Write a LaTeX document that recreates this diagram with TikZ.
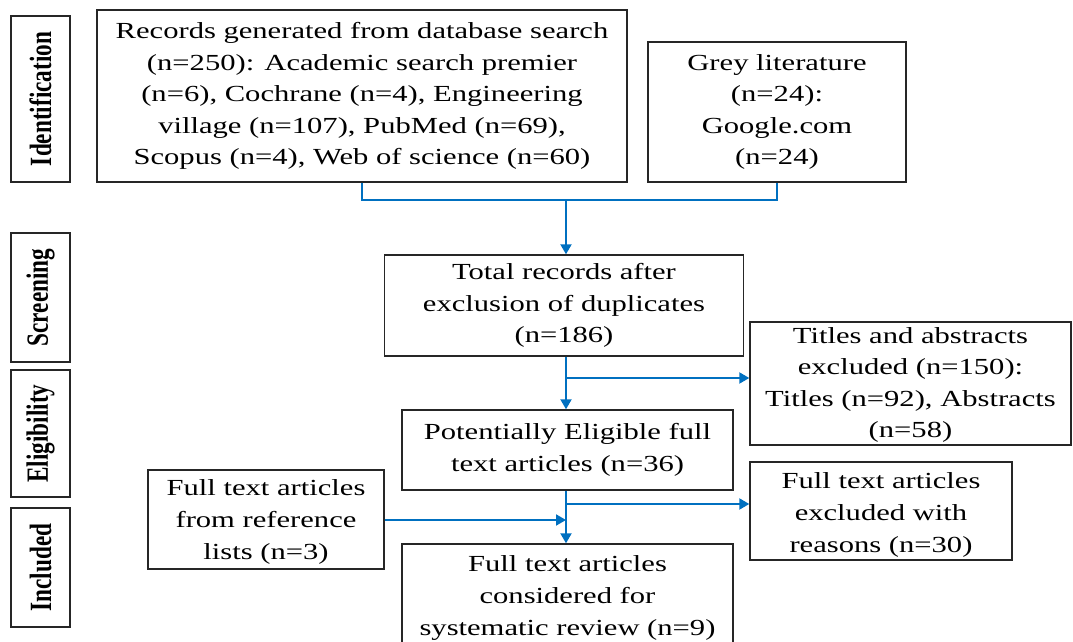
\documentclass[tikz,border=0pt]{standalone}
\usepackage{fontspec}
\setmainfont{Liberation Serif}[FakeStretch=1.33]
\newfontfamily\sidefont{Liberation Serif}
\usetikzlibrary{positioning,arrows.meta}
\definecolor{flowblue}{HTML}{0070C0}
\definecolor{inkgray}{HTML}{262626}

\begin{document}
\begin{tikzpicture}[x=0.5pt,y=-0.5pt,
  box/.style={draw=inkgray,line width=0.7pt,inner sep=0pt},
  txt/.style={align=center,text=black,inner sep=0pt,font=\fontsize{11.5}{15.8}\selectfont},
  stage/.style={draw=inkgray,line width=0.7pt,inner sep=0pt,rotate=90,minimum height=29.5pt,font=\sidefont\bfseries\fontsize{11.6}{12}\selectfont},
  flow/.style={draw=flowblue,line width=1pt},
  flowarr/.style={flow,-{Triangle[length=5pt,width=5.5pt]}}]
  \useasboundingbox (0,0) rectangle (1073,642);

  % phase labels
  \node[stage,minimum width=83pt](ident) at (40.5,99){\scalebox{1}[1.33]{Identification}};
  \node[stage,minimum width=64.5pt](screen) at (40.5,297.5){\scalebox{1}[1.33]{Screening}};
  \node[stage,minimum width=63.5pt](eligib) at (40.5,433.5){\scalebox{1}[1.33]{Eligibility}};
  \node[stage,minimum width=59.5pt](incl) at (40.5,567.5){\scalebox{1}[1.33]{Included}};

  % boxes
  \node[box,minimum width=265pt,minimum height=86pt](rec) at (362,96){};
  \node[txt](recT) at (rec){Records generated from database search\\(n=250): Academic search premier\\(n=6), Cochrane (n=4), Engineering\\village (n=107), PubMed (n=69),\\Scopus (n=4), Web of science (n=60)};
  \node[box,minimum width=129pt,minimum height=70pt](grey) at (777,112){};
  \node[txt](greyT) at (grey){Grey literature\\(n=24):\\Google.com\\(n=24)};
  \node[box,minimum width=179.5pt,minimum height=50.5pt](total) at (564,305.5){};
  \node[txt](totalT) at (total){Total records after\\exclusion of duplicates\\(n=186)};
  \node[box,minimum width=160.5pt,minimum height=61.5pt](titles) at (910.5,383.5){};
  \node[txt](titlesT) at (910.5,385){Titles and abstracts\\excluded (n=150):\\Titles (n=92), Abstracts\\(n=58)};
  \node[box,minimum width=165.5pt,minimum height=40pt](elig) at (567.5,450){};
  \node[txt](eligT) at (elig){Potentially Eligible full\\text articles (n=36)};
  \node[box,minimum width=131pt,minimum height=49pt](excl) at (881,511){};
  \node[txt](exclT) at (881,515){Full text articles\\excluded with\\reasons (n=30)};
  \node[box,minimum width=118pt,minimum height=49.5pt](ref) at (266,519.5){};
  \node[txt](refT) at (266,522){Full text articles\\from reference\\lists (n=3)};
  \node[box,minimum width=165.5pt,minimum height=58pt](final) at (567.5,602){};
  \node[txt](finalT) at (567.5,598){Full text articles\\considered for\\systematic review (n=9)};

  % connectors
  \coordinate (join) at (566,200);
  \coordinate (split1) at (566,378);
  \coordinate (split2) at (566,504);
  \coordinate (merge) at (566,520);
  \draw[flow] (rec.south) |- (join) -| (grey.south);
  \draw[flowarr] (join) -- (join |- total.north);
  \draw[flowarr] (join |- total.south) -- (join |- elig.north);
  \draw[flowarr] (split1) -- (split1 -| titles.west);
  \draw[flowarr] (join |- elig.south) -- (join |- final.north);
  \draw[flowarr] (split2) -- (split2 -| excl.west);
  \draw[flowarr] (ref.east |- merge) -- (merge);
\end{tikzpicture}
\end{document}
